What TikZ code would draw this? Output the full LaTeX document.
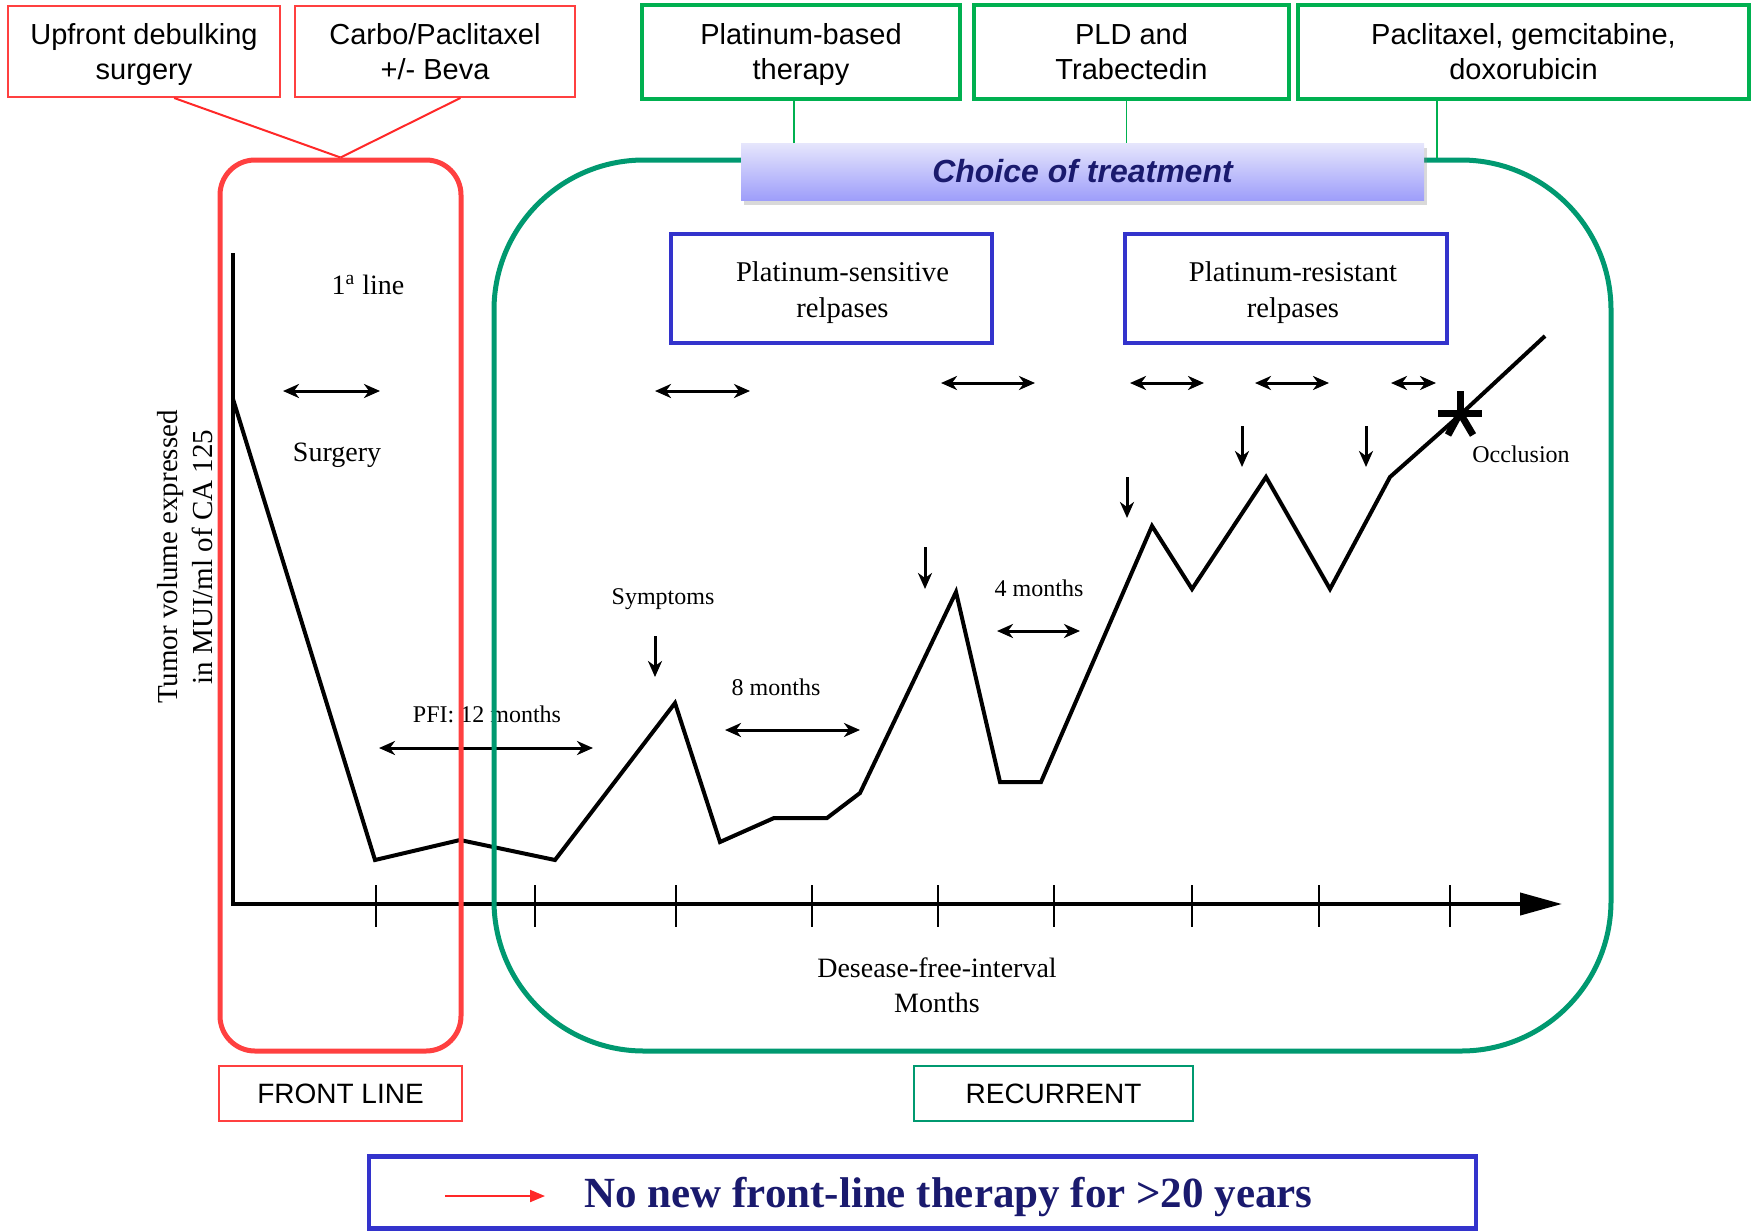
\documentclass[tikz,border=0pt]{standalone}
\usepackage{fontspec}
\setmainfont{Liberation Serif}
\newfontfamily\arial{Liberation Sans}
\usetikzlibrary{arrows.meta,shadows,calc}
\definecolor{redc}{RGB}{255,64,64}
\definecolor{redl}{RGB}{255,40,40}
\definecolor{greenc}{RGB}{0,176,80}
\definecolor{tealc}{RGB}{0,153,112}
\definecolor{bluec}{RGB}{51,51,204}
\definecolor{navyc}{RGB}{26,26,110}
\definecolor{bartop}{RGB}{230,230,252}
\definecolor{barbot}{RGB}{158,158,250}
\newcommand{\tstrA}{\rule{0pt}{15.6pt}}
\newcommand{\tstrB}{\rule{0pt}{16pt}}
\begin{document}
\begin{tikzpicture}[x=0.5pt,y=-0.5pt,
  redbox/.style={draw=redc, line width=1pt, inner sep=0pt, align=center, font=\arial\fontsize{14.5}{17.5}\selectfont},
  greenbox/.style={draw=greenc, line width=2pt, inner sep=0pt, align=center, font=\arial\fontsize{14.5}{17.5}\selectfont},
  bluebox/.style={draw=bluec, line width=2.25pt, inner sep=0pt, align=center, font=\fontsize{14.3}{18}\selectfont},
  frame/.style={line width=2.5pt, inner sep=0pt},
  redline/.style={draw=redl, line width=1pt},
  gline/.style={draw=greenc, line width=0.8pt},
  tip/.tip={Stealth[length=8pt,width=7pt,inset=2.5pt]},
  dbl/.style={line width=1.5pt, tip-tip},
  downarr/.style={line width=1.5pt, -tip},
  big/.style={font=\fontsize{14}{17.5}\selectfont, inner sep=0pt, align=center},
  small/.style={font=\fontsize{12}{14}\selectfont, inner sep=0pt},
  curve/.style={line width=2pt},
  tick/.style={line width=1pt}
]
\useasboundingbox (0,0) rectangle (1754,1231);

% ---------- chart ----------
\draw[line width=2pt, -{Triangle[length=21pt,width=11pt]}] (233,253) -- (233,904) -- (1562,904);
\foreach \x in {376,535,676,812,938,1054,1192,1319,1450}
  \draw[tick] (\x,885) -- (\x,927);

\draw[curve] (233,399) -- (375,860) -- (460,840) -- (555,860) -- (675,703) -- (720,842)
  -- (774,818) -- (827,818) -- (860,793) -- (956,592) -- (1000,782) -- (1041,782)
  -- (1152,526) -- (1192,589) -- (1266,477) -- (1330,589) -- (1390,477) -- (1460,415) -- (1545,336);

% asterisk (occlusion)
\foreach \dx/\dy in {0/-22, 22/0, -22/0, -12/22, 13/22}
  \draw[line width=3.5pt] (1460,413) -- ++(\dx,\dy);

% double arrows
\draw[dbl] (283,391) -- (380,391);
\draw[dbl] (379,748) -- (593,748);
\draw[dbl] (655,391) -- (750,391);
\draw[dbl] (725,730) -- (860,730);
\draw[dbl] (997,631) -- (1080,631);
\draw[dbl] (941,383) -- (1035,383);
\draw[dbl] (1130,383) -- (1204,383);
\draw[dbl] (1255,383) -- (1329,383);
\draw[dbl] (1391,383) -- (1436,383);

% down arrows
\draw[downarr] (655,636) -- (655,677);
\draw[downarr] (925,547) -- (925,589);
\draw[downarr] (1127,477) -- (1127,518);
\draw[downarr] (1242,426) -- (1242,467);
\draw[downarr] (1366,426) -- (1366,467);

% chart texts
\node[big] (firstline) at (368,285) {1\textsuperscript{a} line};
\node[big] (surg) at (337,455) {Surgery};
\node[big, rotate=90, font=\fontsize{14.5}{17.5}\selectfont] (ylab) at (185,557) {Tumor volume expressed\\in MUI/ml of CA 125};
\node[small] (sym) at (663,599) {Symptoms};
\node[small] (pfi) at (487,714) {PFI: 12 months};
\node[small] (m8) at (776,687) {8 months};
\node[small] (m4) at (1039,588) {4 months};
\node[small] (occ) at (1521,454) {Occlusion};
\node[big] (dfi) at (937,985) {Desease-free-interval\\Months};

% ---------- frames ----------
\node[frame, draw=redc, rounded corners=17.5pt, minimum width=120.5pt, minimum height=445.5pt] (front) at (340.5,605.5) {};
\node[frame, draw=tealc, rounded corners=75pt, minimum width=558.5pt, minimum height=445.5pt] (rec) at (1052.5,605.5) {};

% ---------- top boxes ----------
\node[redbox, minimum width=136pt, minimum height=45.5pt] (b1) at (144,51.5) {\tstrA Upfront debulking\\surgery\strut};
\node[redbox, minimum width=140pt, minimum height=45.5pt] (b2) at (435,51.5) {\tstrA Carbo/Paclitaxel\\+/- Beva\strut};
\node[greenbox, minimum width=159pt, minimum height=47pt] (g1) at (801,52) {\tstrA Platinum-based\\therapy\strut};
\node[greenbox, minimum width=157.5pt, minimum height=47pt] (g2) at (1131.5,52) {\tstrA PLD and\\Trabectedin\strut};
\node[greenbox, minimum width=225.5pt, minimum height=47pt] (g3) at (1523.5,52) {\tstrA Paclitaxel, gemcitabine,\\doxorubicin\strut};

\draw[redline] ($(b1.south west)!0.61!(b1.south east)$) -- (front.north);
\draw[redline] ($(b2.south west)!0.59!(b2.south east)$) -- (front.north);

% choice bar
\node[top color=bartop, bottom color=barbot, drop shadow={shadow xshift=1.5pt, shadow yshift=-2.5pt, opacity=0.3},
  minimum width=341.5pt, minimum height=28.5pt, inner sep=0pt,
  font=\arial\bfseries\itshape\fontsize{16}{19}\selectfont, text=navyc] (choice) at (1082.5,171.5) {Choice of treatment};

\draw[gline] ($(g1.south)+(-7,0)$) coordinate (t1) -- (t1 |- choice.north);
\draw[gline] ($(g2.south)+(-5,0)$) coordinate (t2) -- (t2 |- choice.north);
\draw[gline] ($(g3.south west)!0.31!(g3.south east)$) coordinate (t3) -- (t3 |- rec.north);

% blue boxes
\node[bluebox, minimum width=160.5pt, minimum height=54.5pt] (ps) at (831.5,288.5) {\hspace*{11pt}\tstrB Platinum-sensitive\\\hspace*{11pt}relpases\strut};
\node[bluebox, minimum width=161pt, minimum height=54.5pt] (pr) at (1286,288.5) {\hspace*{7pt}\tstrB Platinum-resistant\\\hspace*{7pt}relpases\strut};

% ---------- bottom ----------
\node[draw=redc, line width=1pt, minimum width=121.5pt, minimum height=27.5pt, inner sep=0pt, font=\arial\fontsize{14}{17}\selectfont] (fl) at (340.5,1093.5) {FRONT LINE};
\node[draw=tealc, line width=1pt, minimum width=139.5pt, minimum height=27.5pt, inner sep=0pt, font=\arial\fontsize{14}{17}\selectfont] (rc) at (1053.5,1093.5) {RECURRENT};

\node[draw=bluec, line width=2.25pt, minimum width=553.5pt, minimum height=36pt, inner sep=0pt] (nb) at (922.5,1192.5) {};
\node[font=\bfseries\fontsize{21.5}{24}\selectfont, text=navyc, inner sep=0pt] (nt) at (948.5,1197) {No new front-line therapy for >20 years};
\coordinate (ra) at (445,1196);
\draw[redl, line width=1pt, -{Triangle[length=7.5pt,width=6pt]}] (ra) -- ++(100,0);
\end{tikzpicture}
\end{document}
